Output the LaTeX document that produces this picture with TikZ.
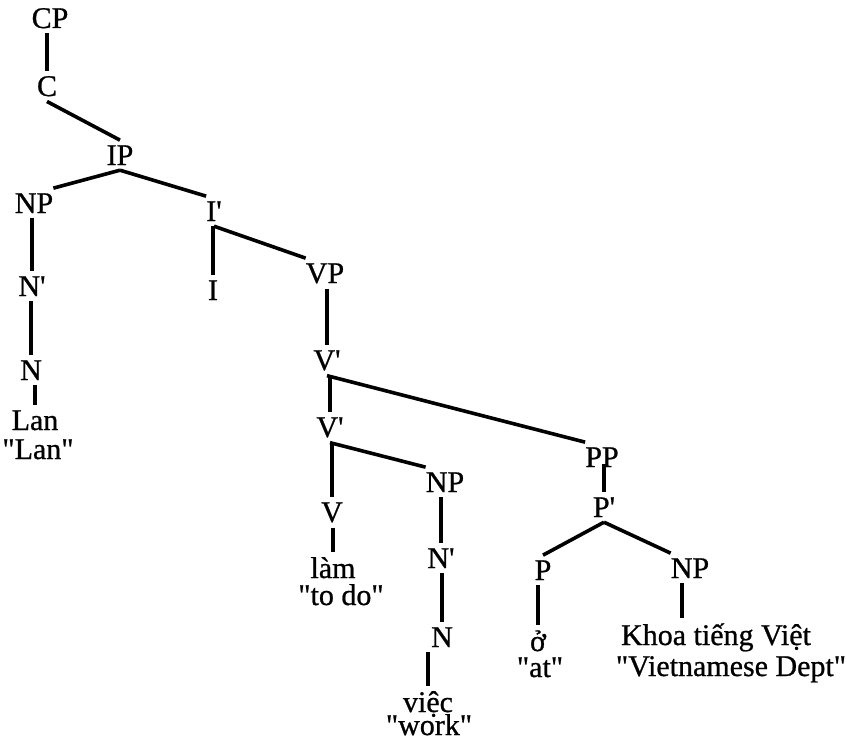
\documentclass[tikz,border=0pt]{standalone}
\usepackage{fontspec}
\newfontfamily\tf{Liberation Serif}[FakeBold=0.8]
\begin{document}
\begin{tikzpicture}[x=1pt,y=-1pt,
  lbl/.style={font=\tf\fontsize{30}{34}\selectfont, inner xsep=0pt, inner ysep=5pt, anchor=base},
  leaf/.style={lbl, inner ysep=0.5pt},
  edge/.style={line width=3.6pt},
  toleaf/.style={edge, shorten >=4.5pt}]
\useasboundingbox (0,0) rectangle (846,741);
% nodes
\node[lbl] (CP) at (50,28) {CP};
\node[lbl] (C) at (47,96) {C};
\node[lbl] (IP) at (120,165) {IP};
\node[lbl] (NP1) at (34,213) {NP};
\node[lbl] (I1) at (214,221) {I'};
\node[lbl] (N1b) at (32,296) {N'};
\node[lbl] (N1) at (31,380) {N};
\node[leaf] (Lan) at (35,430) {Lan};
\node[leaf] (Lang) at (38,459) {"Lan"};
\node[lbl] (I) at (213,300) {I};
\node[lbl] (VP) at (325,283) {VP};
\node[lbl] (V1) at (327,370) {V'};
\node[lbl] (V2) at (330,437) {V'};
\node[lbl] (PP) at (602,467) {PP};
\node[lbl] (V) at (332,522) {V};
\node[leaf] (lam) at (333,578) {làm};
\node[leaf] (todo) at (341,605) {"to do"};
\node[lbl] (NP2) at (445,492) {NP};
\node[lbl] (N2b) at (441,568) {N'};
\node[lbl] (N2) at (442,647) {N};
\node[leaf] (viec) at (428,712) {việc};
\node[leaf] (work) at (429,735) {"work"};
\node[lbl] (Pb) at (604,517) {P'};
\node[lbl] (P) at (543,580) {P};
\node[leaf] (o) at (538,651) {ở};
\node[leaf] (at) at (540,677) {"at"};
\node[lbl] (NP3) at (690,578) {NP};
\node[leaf] (khoa) at (716,645) {Khoa tiếng Việt};
\node[leaf] (vd) at (731,676) {"Vietnamese Dept"};
% connectors
\draw[edge] (C.north |- CP.south) -- (C.north);
\draw[edge] (C.south) -- (IP.north);
\draw[edge] (IP.south) -- (NP1.north east);
\draw[edge] (IP.south) -- (I1.north west);
\draw[edge] (N1b.north |- NP1.south) -- (N1b.north);
\draw[edge] (N1.north |- N1b.south) -- (N1.north);
\draw[toleaf] (Lan.north |- N1.south) -- (Lan.north);
\draw[edge] (I.north |- I1.south) -- (I.north);
\draw[edge] (I1.south) -- (VP.north west);
\draw[edge] (V1.north |- VP.south) -- (V1.north);
\draw[edge] (V2.north |- V1.south) -- (V2.north);
\draw[edge] (V1.south) -- (PP.north west);
\draw[edge] (V.north |- V2.south) -- (V.north);
\draw[edge] (V2.south) -- (NP2.north west);
\draw[toleaf] (lam.north |- V.south) -- (lam.north);
\draw[edge] (N2b.north |- NP2.south) -- (N2b.north);
\draw[edge] (N2.north |- N2b.south) -- (N2.north);
\draw[toleaf] (viec.north |- N2.south) -- (viec.north);
\draw[edge, shorten <=-8pt] (Pb.north |- PP.south) -- (Pb.north);
\draw[edge] (Pb.south) -- (P.north);
\draw[edge] (Pb.south) -- (NP3.north west);
\draw[toleaf] (o.north |- P.south) -- (o.north);
\draw[toleaf] ([xshift=-8pt]NP3.south) -- ([xshift=-34pt]khoa.north);
\end{tikzpicture}
\end{document}
